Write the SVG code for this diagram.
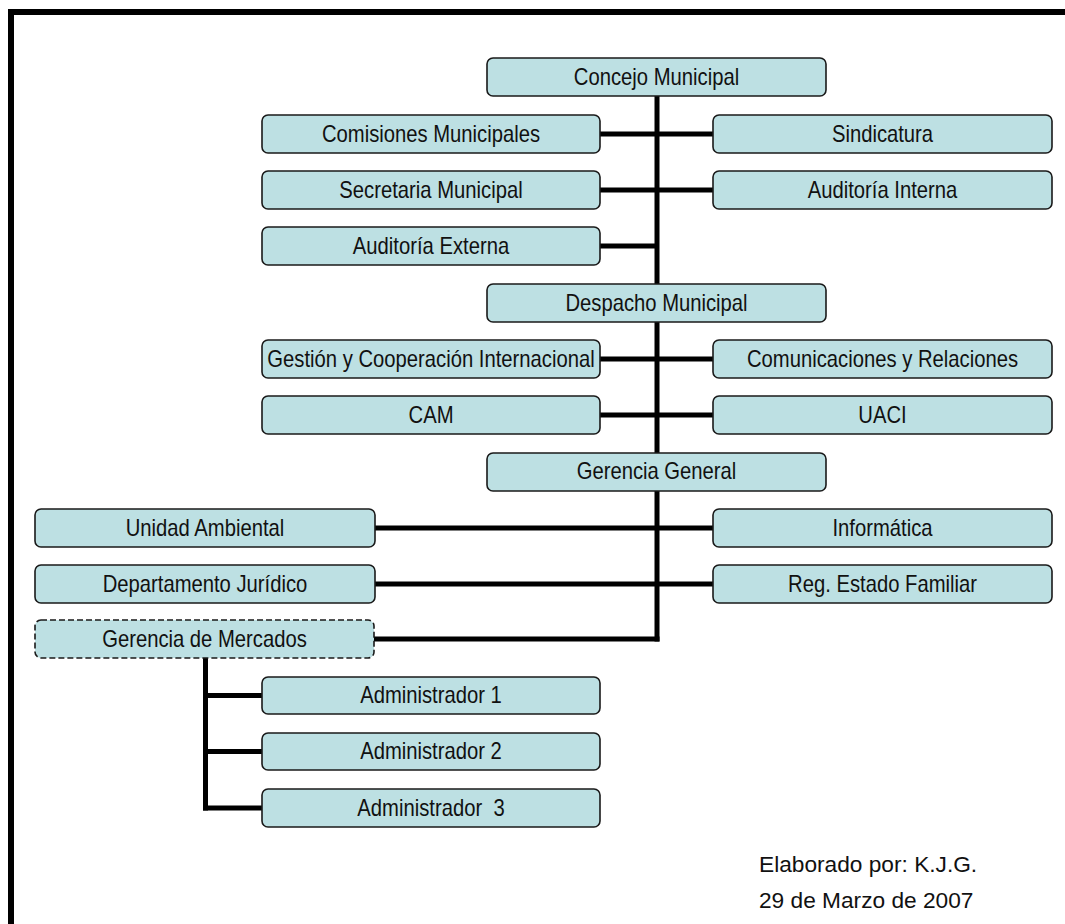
<svg xmlns="http://www.w3.org/2000/svg" width="1065" height="924" viewBox="0 0 1065 924">
<style>
.n{fill:#bde0e3;stroke:#1a1a1a;stroke-width:1.6}
.d{stroke-dasharray:6,3}
.t{font-family:"Liberation Sans",Arial,sans-serif;font-size:23px;fill:#111;text-anchor:middle}
.f{font-family:"Liberation Sans",Arial,sans-serif;font-size:22.7px;fill:#111}
.c{stroke:#000;stroke-width:5;fill:none}
</style>
<rect x="0" y="0" width="1065" height="924" fill="#fff"/>
<path d="M11,924 V12 H1065" fill="none" stroke="#000" stroke-width="6"/>
<g id="connectors" class="c">
<path d="M657,96 V641.5"/>
<path d="M600,134 H713"/>
<path d="M600,190 H713"/>
<path d="M600,246 H657"/>
<path d="M600,359 H713"/>
<path d="M600,415 H713"/>
<path d="M375,528 H713"/>
<path d="M375,584 H713"/>
<path d="M374,639 H659.5"/>
<path d="M205.5,658 V810.5"/>
<path d="M203,695.5 H262"/>
<path d="M203,751.5 H262"/>
<path d="M203,808 H262"/>
</g>
<g id="concejo"><rect class="n" x="487" y="58" width="339" height="38" rx="6"/><text class="t" transform="translate(656.5,85) scale(0.88,1)">Concejo Municipal</text></g>
<g id="comisiones"><rect class="n" x="262" y="115" width="338" height="38" rx="6"/><text class="t" transform="translate(431,142) scale(0.88,1)">Comisiones Municipales</text></g>
<g id="sindicatura"><rect class="n" x="713" y="115" width="339" height="38" rx="6"/><text class="t" transform="translate(882.5,142) scale(0.88,1)">Sindicatura</text></g>
<g id="secretaria"><rect class="n" x="262" y="171" width="338" height="38" rx="6"/><text class="t" transform="translate(431,198) scale(0.88,1)">Secretaria Municipal</text></g>
<g id="auditoria-interna"><rect class="n" x="713" y="171" width="339" height="38" rx="6"/><text class="t" transform="translate(882.5,198) scale(0.88,1)">Auditoría Interna</text></g>
<g id="auditoria-externa"><rect class="n" x="262" y="227" width="338" height="38" rx="6"/><text class="t" transform="translate(431,254) scale(0.88,1)">Auditoría Externa</text></g>
<g id="despacho"><rect class="n" x="487" y="284" width="339" height="38" rx="6"/><text class="t" transform="translate(656.5,311) scale(0.88,1)">Despacho Municipal</text></g>
<g id="gestion"><rect class="n" x="262" y="340" width="338" height="38" rx="6"/><text class="t" transform="translate(431,367) scale(0.88,1)">Gestión y Cooperación Internacional</text></g>
<g id="comunicaciones"><rect class="n" x="713" y="340" width="339" height="38" rx="6"/><text class="t" transform="translate(882.5,367) scale(0.88,1)">Comunicaciones y Relaciones</text></g>
<g id="cam"><rect class="n" x="262" y="396" width="338" height="38" rx="6"/><text class="t" transform="translate(431,423) scale(0.88,1)">CAM</text></g>
<g id="uaci"><rect class="n" x="713" y="396" width="339" height="38" rx="6"/><text class="t" transform="translate(882.5,423) scale(0.88,1)">UACI</text></g>
<g id="gerencia-general"><rect class="n" x="487" y="453" width="339" height="38" rx="6"/><text class="t" transform="translate(656.5,479) scale(0.88,1)">Gerencia General</text></g>
<g id="unidad-ambiental"><rect class="n" x="35" y="509" width="340" height="38" rx="6"/><text class="t" transform="translate(205,536) scale(0.88,1)">Unidad Ambiental</text></g>
<g id="informatica"><rect class="n" x="713" y="509" width="339" height="38" rx="6"/><text class="t" transform="translate(882.5,536) scale(0.88,1)">Informática</text></g>
<g id="juridico"><rect class="n" x="35" y="565" width="340" height="38" rx="6"/><text class="t" transform="translate(205,592) scale(0.88,1)">Departamento Jurídico</text></g>
<g id="reg-estado"><rect class="n" x="713" y="565" width="339" height="38" rx="6"/><text class="t" transform="translate(882.5,592) scale(0.88,1)">Reg. Estado Familiar</text></g>
<g id="gerencia-mercados"><rect class="n d" x="35" y="620" width="339" height="38" rx="6"/><text class="t" transform="translate(204.5,647) scale(0.88,1)">Gerencia de Mercados</text></g>
<g id="admin1"><rect class="n" x="262" y="677" width="338" height="37" rx="6"/><text class="t" transform="translate(431,703) scale(0.88,1)">Administrador 1</text></g>
<g id="admin2"><rect class="n" x="262" y="733" width="338" height="37" rx="6"/><text class="t" transform="translate(431,759) scale(0.88,1)">Administrador 2</text></g>
<g id="admin3"><rect class="n" x="262" y="789" width="338" height="38" rx="6"/><text class="t" transform="translate(431,816) scale(0.88,1)" xml:space="preserve">Administrador  3</text></g>
<g id="footer">
<text class="f" x="759" y="872">Elaborado por: K.J.G.</text>
<text class="f" x="759" y="908">29 de Marzo de 2007</text>
</g>
</svg>
